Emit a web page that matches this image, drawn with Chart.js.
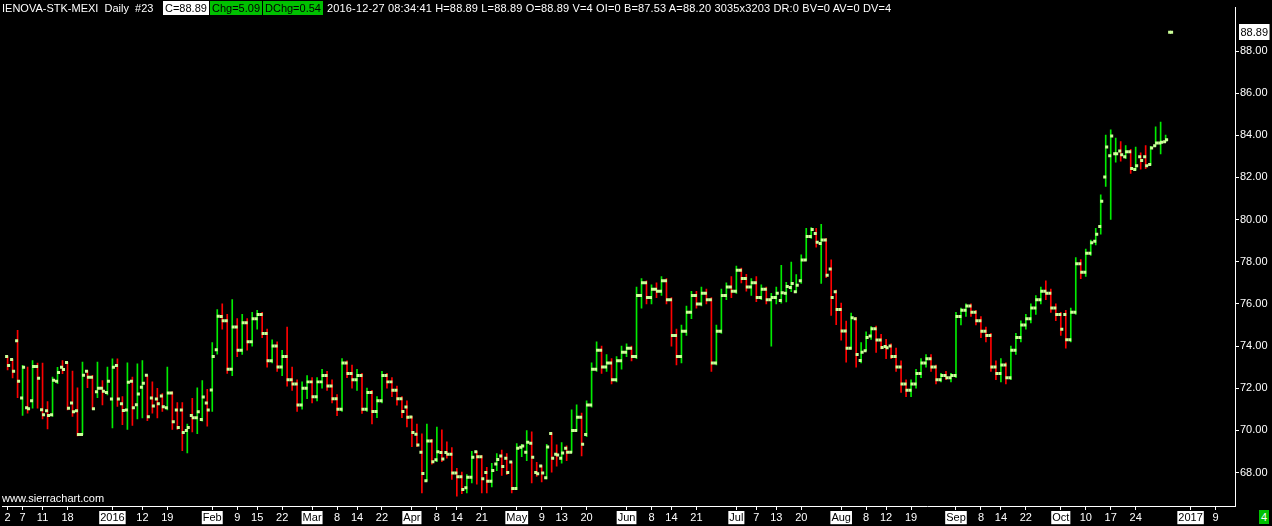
<!DOCTYPE html>
<html>
<head>
<meta charset="utf-8">
<script src="https://cdn.jsdelivr.net/npm/chart.js@4.4.0/dist/chart.umd.min.js"></script>
<style>
  html, body { margin: 0; padding: 0; background: #000; }
  #wrap { position: relative; width: 1272px; height: 526px; overflow: hidden; background: #000; }
  #chart { position: absolute; left: 0; top: 0; }
  .t { position: absolute; top: 1px; font: 11px "Liberation Sans", Arial, sans-serif; color: #fff; white-space: pre; line-height: 14px; }
  .box { color: #000; padding: 0 2px; }
</style>
</head>
<body>
<div id="wrap">
  <canvas id="chart" width="1272" height="526"></canvas>
  <div class="t" style="left:2px">IENOVA-STK-MEXI  Daily  #23</div>
  <div class="t box" style="left:163px;background:#fff">C=88.89</div>
  <div class="t box" style="left:210px;background:#00c000">Chg=5.09</div>
  <div class="t box" style="left:263px;background:#00c000">DChg=0.54</div>
  <div class="t" style="left:327px;letter-spacing:0.15px">2016-12-27 08:34:41 H=88.89 L=88.89 O=88.89 V=4 OI=0 B=87.53 A=88.20 3035x3203 DR:0 BV=0 AV=0 DV=4</div>
  <div class="t" style="left:2px;top:491px">www.sierrachart.com</div>
  <div class="t" style="left:1259px;top:510px;background:#00c000;padding:0 2px">4</div>
</div>
<script>
// daily bars, index 0 = 2015-12-02, last bar = 2016-12-27
const opens = [
  73.50,73.36,74.25,71.54,71.07,71.40,73.03,70.98,70.93,70.74,
  72.33,72.99,73.22,71.30,70.93,69.80,72.80,72.52,71.83,72.00,
  71.79,71.49,73.08,71.26,70.97,72.33,71.21,72.05,72.61,71.54,
  71.49,71.63,71.07,71.77,70.97,70.97,69.99,70.70,70.60,70.51,
  71.30,71.91,73.83,75.40,75.20,72.90,74.90,73.80,75.10,74.20,
  75.30,75.50,74.60,73.30,74.00,73.00,73.50,72.40,72.20,71.20,
  72.00,72.30,71.60,72.30,72.60,72.10,71.50,71.00,73.20,72.70,
  72.40,72.60,71.00,71.80,70.90,71.40,72.60,72.30,71.90,71.50,
  71.11,70.63,69.81,68.96,67.61,69.49,68.61,68.95,68.95,68.87,
  67.98,67.80,67.28,67.77,68.98,68.75,68.00,67.58,68.40,68.78,
  68.68,68.50,67.24,69.20,68.96,69.39,68.00,68.31,67.75,69.85,
  68.87,68.68,69.15,68.96,69.99,70.62,69.80,71.20,72.90,73.80,
  73.00,73.20,72.40,73.30,73.70,73.90,73.50,76.40,77.00,76.30,
  76.70,76.60,77.10,76.20,74.50,73.50,74.70,75.60,76.40,76.00,
  76.50,76.20,73.20,74.70,76.40,76.80,76.60,77.60,77.20,76.80,
  77.00,76.30,76.70,76.20,76.30,76.16,76.50,76.78,76.58,77.10,
  78.08,79.20,79.34,78.87,79.03,77.66,76.58,75.73,74.71,73.89,
  75.29,73.31,73.78,74.48,74.82,74.29,73.98,74.00,73.50,73.00,
  72.20,71.90,72.20,72.70,73.20,73.40,73.00,72.40,72.60,72.50,
  72.60,75.40,75.70,75.90,75.60,75.20,74.70,74.50,73.00,72.70,
  73.10,72.50,73.80,74.40,75.00,75.30,75.80,76.20,76.60,76.50,
  75.80,75.50,75.50,74.30,75.60,77.90,77.50,78.40,78.97,79.67,
  82.02,83.03,83.12,83.26,82.98,83.22,82.38,82.98,82.98,82.61,
  83.50,83.64,83.70,88.89
]
const highs = [
  73.50,73.36,74.74,73.08,73.00,73.31,73.19,73.19,71.36,72.53,
  72.99,73.31,73.24,72.81,72.02,73.24,72.84,72.61,73.24,72.36,
  73.00,73.39,73.39,71.60,73.20,72.53,73.16,73.31,72.61,72.30,
  71.99,71.75,73.00,71.83,71.32,71.32,70.30,71.52,72.02,72.36,
  71.95,74.17,75.73,76.00,75.50,76.20,75.30,75.50,75.30,75.60,
  75.70,75.60,74.80,74.30,74.20,73.80,74.90,73.00,72.40,72.30,
  72.60,72.50,72.50,72.90,72.80,72.40,71.70,73.40,73.30,73.10,
  72.90,72.70,72.00,71.90,71.60,72.80,72.70,72.50,72.10,71.60,
  71.40,70.66,70.30,69.84,70.30,69.57,70.15,70.02,69.46,69.18,
  68.20,68.02,67.90,69.00,69.00,68.80,68.25,68.44,68.90,69.06,
  68.90,68.50,69.37,69.34,69.99,69.93,68.48,68.33,69.34,69.88,
  69.31,69.42,69.26,70.97,71.21,70.82,71.40,73.20,74.20,74.00,
  73.60,73.40,73.50,74.00,74.10,74.00,76.80,77.20,77.10,76.90,
  77.00,77.30,77.20,76.30,74.80,75.00,75.90,76.60,76.60,76.80,
  76.70,76.30,75.00,76.70,77.00,77.30,77.80,77.70,77.40,77.20,
  77.30,76.90,76.80,76.50,76.80,77.83,77.02,77.98,77.39,78.33,
  79.59,79.62,79.59,79.78,79.11,78.09,76.66,76.04,75.18,75.57,
  75.35,74.17,74.67,74.92,74.95,74.56,74.32,74.10,73.90,73.30,
  72.40,72.40,72.90,73.40,73.60,73.60,73.10,72.70,72.80,72.70,
  75.60,75.80,76.00,76.00,75.70,75.40,74.90,74.60,73.30,73.40,
  73.20,74.00,74.60,75.20,75.50,76.00,76.40,76.80,77.10,76.70,
  76.00,75.60,75.70,75.80,78.20,78.10,78.60,79.03,79.59,81.18,
  84.01,84.26,83.87,83.70,83.51,83.33,83.44,83.17,83.51,83.48,
  84.40,84.63,84.01,88.89
]
const lows = [
  72.87,72.49,71.55,70.71,70.82,71.05,71.05,70.54,70.07,70.66,
  72.22,72.69,70.97,70.66,69.73,69.80,72.02,70.99,71.55,71.21,
  71.68,70.12,71.13,70.27,70.04,70.23,70.54,70.59,70.46,70.82,
  70.59,70.90,70.97,70.04,70.04,69.03,68.93,69.93,69.84,70.43,
  70.20,70.90,73.62,74.80,72.70,72.60,73.50,73.60,73.80,74.00,
  74.80,74.40,73.00,73.20,72.80,72.60,72.10,71.90,70.90,71.00,
  71.50,71.30,71.40,72.00,71.90,71.30,70.70,70.90,72.50,72.00,
  71.90,70.80,70.90,70.30,70.60,71.30,72.00,71.60,71.20,70.60,
  70.16,69.23,69.23,67.03,67.59,68.40,68.51,68.51,68.68,67.67,
  66.88,67.00,67.03,67.50,67.44,67.03,67.03,67.31,68.09,67.86,
  67.90,67.03,67.19,68.75,68.56,67.50,67.81,67.55,67.70,68.02,
  68.30,68.44,68.56,68.95,69.96,68.79,69.70,71.10,72.80,72.70,
  72.80,72.20,72.30,72.90,73.50,73.30,73.40,75.80,76.00,76.00,
  76.30,76.40,76.00,74.00,73.10,73.20,74.50,75.30,75.80,75.90,
  76.00,72.80,73.10,74.60,76.20,76.30,76.50,77.00,76.60,76.40,
  76.10,76.20,76.00,74.00,76.00,76.04,76.09,76.58,76.53,76.97,
  78.06,79.11,78.69,76.97,77.25,75.45,75.02,74.28,73.23,73.85,
  73.00,73.20,73.78,74.32,73.70,73.86,73.40,73.40,72.80,71.80,
  71.60,71.60,72.00,72.50,73.00,72.80,72.20,72.30,72.40,72.30,
  72.50,75.00,75.40,75.40,75.00,74.40,74.20,72.80,72.40,72.30,
  72.20,72.40,73.60,74.20,74.80,75.10,75.50,76.00,76.20,75.60,
  75.20,74.50,73.90,74.20,75.50,77.20,77.30,78.30,78.80,79.31,
  81.57,80.01,82.73,82.77,82.89,82.19,82.35,82.39,82.42,82.58,
  83.48,83.12,83.70,88.89
]
const closes = [
  73.08,72.80,72.33,72.99,71.02,73.03,72.47,70.74,70.70,72.38,
  72.75,72.89,71.05,70.88,69.80,72.61,72.52,71.02,72.00,71.86,
  72.33,72.99,71.49,70.94,72.28,71.07,71.72,72.24,70.65,71.16,
  71.26,71.12,71.77,70.41,70.13,69.90,70.13,70.60,70.88,71.58,
  70.97,73.50,75.41,75.20,72.90,74.90,73.80,75.10,74.20,75.30,
  75.50,74.60,73.30,74.00,73.00,73.50,72.40,72.20,71.20,72.00,
  72.30,71.60,72.30,72.60,72.10,71.50,71.00,73.20,72.70,72.40,
  72.60,71.00,71.80,70.90,71.40,72.60,72.30,71.90,71.50,70.90,
  70.62,69.90,69.31,67.95,69.49,68.51,68.99,68.64,68.87,67.98,
  67.80,67.19,67.77,68.72,68.75,67.70,67.58,68.09,68.62,68.28,
  68.00,67.24,69.15,69.26,69.43,68.72,67.94,67.98,69.21,68.68,
  68.83,68.92,68.96,69.99,70.62,69.34,71.20,72.90,73.80,73.00,
  73.20,72.40,73.30,73.70,73.90,73.50,76.40,77.00,76.30,76.70,
  76.60,77.10,76.20,74.50,73.50,74.70,75.60,76.40,76.00,76.50,
  76.20,73.20,74.70,76.40,76.80,76.60,77.60,77.20,76.80,77.00,
  76.30,76.70,76.20,76.30,76.50,76.53,76.82,76.97,76.88,78.08,
  79.20,79.53,78.92,79.03,77.36,76.30,75.73,74.71,73.89,75.34,
  73.60,73.70,74.40,74.82,74.29,73.93,73.92,73.50,73.00,72.20,
  71.90,72.20,72.70,73.20,73.40,73.00,72.40,72.60,72.50,72.60,
  75.40,75.70,75.90,75.60,75.20,74.70,74.50,73.00,72.70,73.10,
  72.50,73.80,74.40,75.00,75.30,75.80,76.20,76.60,76.50,75.80,
  75.50,74.80,74.30,75.60,77.90,77.50,78.40,78.90,79.31,80.87,
  83.45,83.97,83.12,83.08,83.22,82.42,82.56,82.81,82.56,83.40,
  83.64,83.67,83.79,88.89
]

// date axis: bar index of each labelled day and its text
const tickIdx = [0,3,7,12,21,27,32,41,46,50,55,61,66,70,75,81,86,90,95,102,107,111,116,
  124,129,133,138,146,150,154,159,167,172,176,181,190,195,199,204,211,216,221,226,237,242]
const tickText = ['2','7','11','18','2016','12','19','Feb','9','15','22','Mar','8','14','22','Apr','8','14','21',
  'May','9','13','20','Jun','8','14','21','Jul','7','13','20','Aug','8','12','19','Sep','8','14','22',
  'Oct','10','17','24','2017','9']
const boxedLabels = ['2016','2017','Feb','Mar','Apr','May','Jun','Jul','Aug','Sep','Oct']
const priceTicks = [68,70,72,74,76,78,80,82,84,86,88]

const upColor = '#00ec00'
const downColor = '#ff0000'
const markColor = '#ccff99'
const font = { family: '"Liberation Sans", Arial, sans-serif', size: 11 }

const idx = opens.map((o, i) => i)
const barColors = idx.map(i => closes[i] >= opens[i] ? upColor : downColor)

const lastPrice = {
  id: 'lastPrice',
  afterDraw(chart) {
    const c = chart.ctx
    const v = closes[closes.length - 1]
    const y = chart.scales.y.getPixelForValue(v)
    const x = chart.chartArea.right + 4
    const txt = v.toFixed(2)
    c.save()
    c.font = '11px "Liberation Sans", Arial, sans-serif'
    const w = c.measureText(txt).width
    c.fillStyle = '#fff'
    c.fillRect(x, Math.round(y) - 8, w + 3, 16)
    c.fillStyle = '#000'
    c.textBaseline = 'middle'
    c.fillText(txt, x + 1.5, Math.round(y) + 0.5)
    c.restore()
  }
}

new Chart(document.getElementById('chart'), {
  type: 'bar',
  data: {
    datasets: [
      {
        type: 'bar',
        data: idx.map(i => ({ x: i, y: [lows[i], highs[i]] })),
        backgroundColor: barColors,
        borderWidth: 0,
        barThickness: 1,
        order: 3
      },
      {
        type: 'scatter',
        data: idx.map(i => ({ x: i - 0.2, y: opens[i] })),
        pointStyle: 'rect',
        pointRadius: 2.12,
        pointHoverRadius: 2.12,
        backgroundColor: markColor,
        borderWidth: 0,
        order: 1
      },
      {
        type: 'scatter',
        data: idx.map(i => ({ x: i + 0.2, y: closes[i] })),
        pointStyle: 'rect',
        pointRadius: 2.12,
        pointHoverRadius: 2.12,
        backgroundColor: markColor,
        borderWidth: 0,
        order: 2
      }
    ]
  },
  options: {
    responsive: false,
    animation: false,
    devicePixelRatio: 1,
    layout: { padding: 0 },
    plugins: { legend: { display: false }, tooltip: { enabled: false } },
    scales: {
      x: {
        type: 'linear',
        min: -1.1,
        max: 245.9,
        offset: false,
        grid: { drawOnChartArea: false, drawTicks: true, tickLength: 4, tickColor: '#fff', offset: false },
        border: { display: true, color: '#fff', width: 1 },
        afterBuildTicks: s => { s.ticks = tickIdx.map(v => ({ value: v })) },
        afterFit: s => { s.height = 20 },
        ticks: {
          autoSkip: false,
          maxRotation: 0,
          padding: 1,
          font: font,
          callback: (v, i) => tickText[i],
          color: c => boxedLabels.includes(tickText[c.index]) ? '#000' : '#fff',
          showLabelBackdrop: c => boxedLabels.includes(tickText[c.index]),
          backdropColor: '#fff',
          backdropPadding: { left: 1, right: 1, top: 0, bottom: 0 }
        }
      },
      y: {
        position: 'right',
        min: 66.41,
        max: 90.06,
        grid: { drawOnChartArea: false, drawTicks: true, tickLength: 4, tickColor: '#fff' },
        border: { display: true, color: '#fff', width: 1 },
        afterBuildTicks: s => { s.ticks = priceTicks.map(v => ({ value: v })) },
        afterFit: s => { s.width = 37 },
        ticks: {
          padding: 1,
          font: font,
          color: '#fff',
          callback: v => Number(v).toFixed(2)
        }
      }
    }
  },
  plugins: [lastPrice]
})
</script>
</body>
</html>
